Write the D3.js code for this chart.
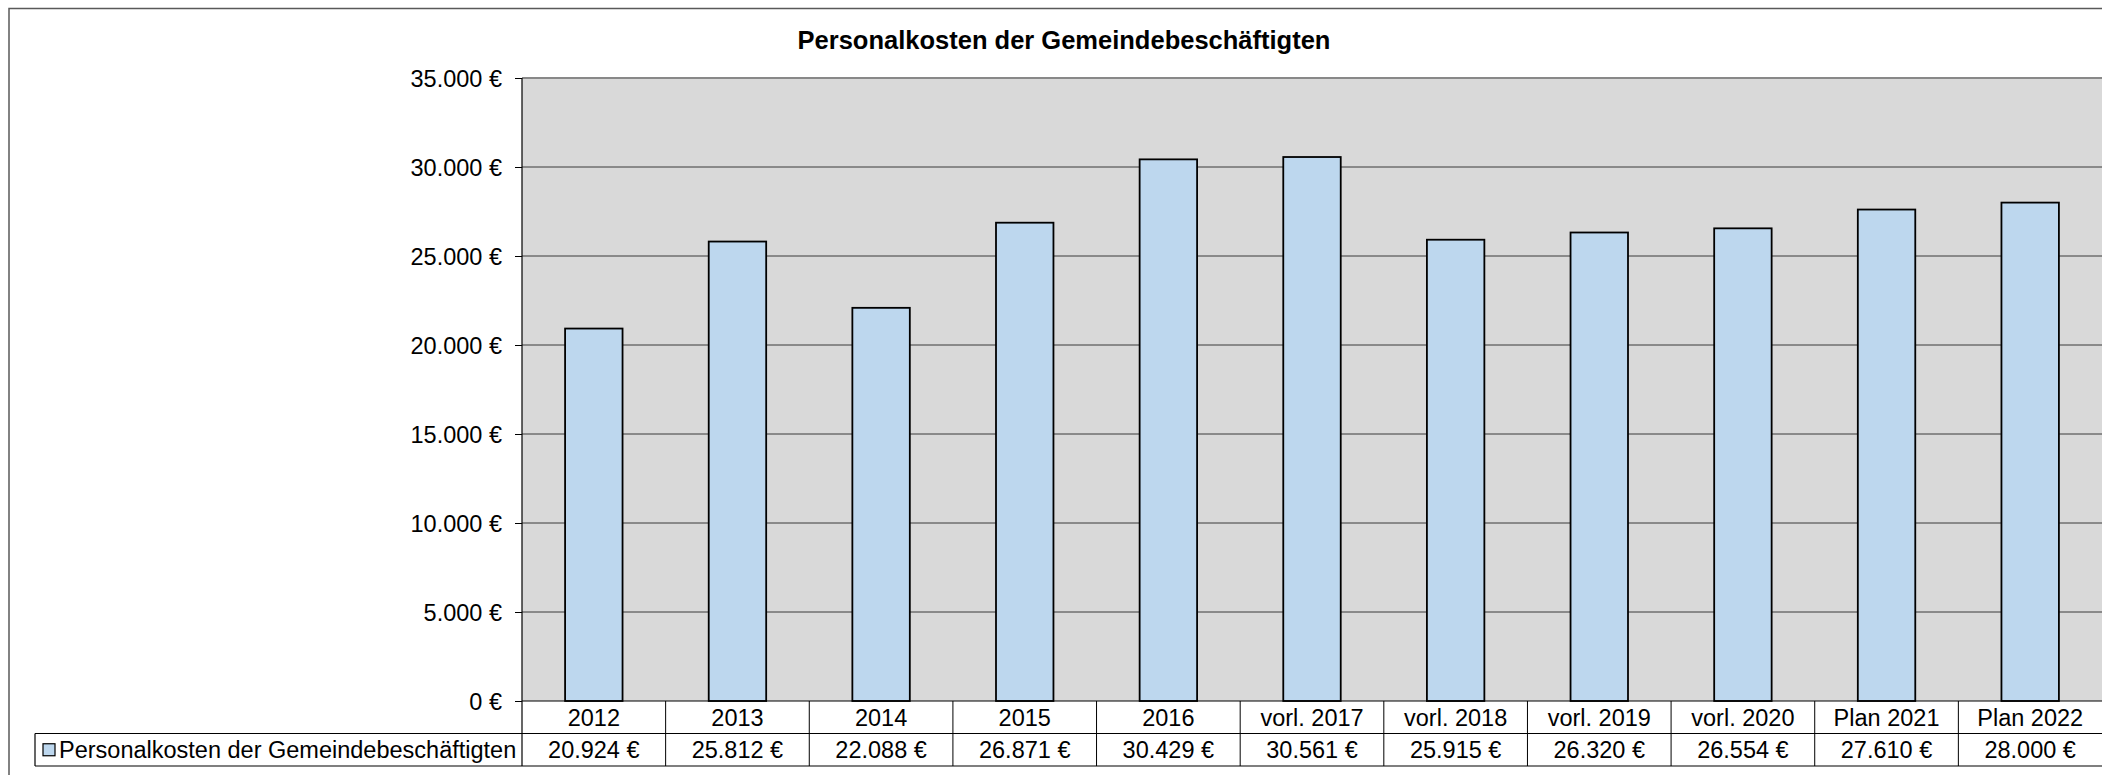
<!DOCTYPE html>
<html><head><meta http-equiv="Content-Type" content="text/html; charset=UTF-8">
<script src="https://d3js.org/d3.v7.min.js"></script>
</head>
<body style="margin:0;background:#fff">
<style>
  svg text { font-family: "Liberation Sans", Arial, sans-serif; fill: #000; }
</style>
<div id="body"></div>
<script type="text/javascript">

// chart data
var chartTitle = "Personalkosten der Gemeindebeschäftigten";
var seriesName = "Personalkosten der Gemeindebeschäftigten";
var categories = ["2012", "2013", "2014", "2015", "2016", "vorl. 2017", "vorl. 2018",
                  "vorl. 2019", "vorl. 2020", "Plan 2021", "Plan 2022"];
var values = [20924, 25812, 22088, 26871, 30429, 30561, 25915, 26320, 26554, 27610, 28000];
var yTicks = [0, 5000, 10000, 15000, 20000, 25000, 30000, 35000];

var w = 2102, h = 775,
    plotLeft = 522, plotRight = 2102,
    plotTop = 78, plotBottom = 701,
    rowH = 32.5,
    legendLeft = 35,
    fontSize = 23.5;

var de = d3.formatLocale({decimal: ",", thousands: ".", grouping: [3], currency: ["", " €"]});
var euro = function(v) { return de.format(",.0f")(v) + " €"; };

var x = d3.scaleBand().domain(categories).range([plotLeft, plotRight]).paddingInner(0).paddingOuter(0);
var y = d3.scaleLinear().domain([0, 35000]).range([plotBottom, plotTop]);
var barW = x.bandwidth() * 0.4;

var svg = d3.select("#body").append("svg")
    .attr("width", w)
    .attr("height", h);

// outer chart frame (right/bottom fall outside the picture)
svg.append("rect")
    .attr("x", 9).attr("y", 8.5)
    .attr("width", w + 20).attr("height", h + 20)
    .attr("fill", "#fff")
    .attr("stroke", "#595959")
    .attr("stroke-width", 1.5);

// plot background
svg.append("rect")
    .attr("x", plotLeft).attr("y", plotTop)
    .attr("width", plotRight - plotLeft).attr("height", plotBottom - plotTop)
    .attr("fill", "#d9d9d9");

svg.append("line")
    .attr("x1", plotLeft).attr("x2", plotRight)
    .attr("y1", plotTop).attr("y2", plotTop)
    .attr("stroke", "#888").attr("stroke-width", 2);

// gridlines
svg.selectAll(".grid")
    .data(yTicks.filter(function(d) { return d > 0 && d < 35000; }))
    .enter().append("line")
    .attr("class", "grid")
    .attr("x1", plotLeft).attr("x2", plotRight)
    .attr("y1", function(d) { return y(d); })
    .attr("y2", function(d) { return y(d); })
    .attr("stroke", "#3a3a3a").attr("stroke-width", 1);

// bars
svg.selectAll(".bar")
    .data(values)
    .enter().append("rect")
    .attr("class", "bar")
    .attr("x", function(d, i) { return x(categories[i]) + (x.bandwidth() - barW) / 2; })
    .attr("y", function(d) { return y(d); })
    .attr("width", barW)
    .attr("height", function(d) { return y(0) - y(d); })
    .attr("fill", "#bdd7ee")
    .attr("stroke", "#000")
    .attr("stroke-width", 1.8);

// y axis
var yAxis = d3.axisLeft(y)
    .tickValues(yTicks)
    .tickSizeInner(7)
    .tickSizeOuter(0)
    .tickPadding(13)
    .tickFormat(euro);

var ya = svg.append("g")
    .attr("transform", "translate(" + plotLeft + ",0)")
    .call(yAxis);
ya.select(".domain").remove();
ya.selectAll("line").attr("stroke", "#000");
ya.selectAll("text")
    .style("font-size", fontSize + "px")
    .attr("dy", "0.35em");

// axis line, continuing down through the data table
svg.append("line")
    .attr("x1", plotLeft).attr("x2", plotLeft)
    .attr("y1", plotTop).attr("y2", plotBottom + 2 * rowH)
    .attr("stroke", "#000").attr("stroke-width", 1.2);

// data table
var tbl = svg.append("g");
tbl.append("line")
    .attr("x1", plotLeft).attr("x2", plotRight)
    .attr("y1", plotBottom).attr("y2", plotBottom)
    .attr("stroke", "#000").attr("stroke-width", 1.2);
[plotBottom + rowH, plotBottom + 2 * rowH].forEach(function(yy) {
    tbl.append("line")
        .attr("x1", legendLeft).attr("x2", plotRight)
        .attr("y1", yy).attr("y2", yy)
        .attr("stroke", "#000").attr("stroke-width", 1.2);
});
tbl.append("line")
    .attr("x1", legendLeft).attr("x2", legendLeft)
    .attr("y1", plotBottom + rowH).attr("y2", plotBottom + 2 * rowH)
    .attr("stroke", "#000").attr("stroke-width", 1.2);

tbl.selectAll(".div")
    .data(categories.slice(1))
    .enter().append("line")
    .attr("x1", function(d) { return x(d); })
    .attr("x2", function(d) { return x(d); })
    .attr("y1", plotBottom).attr("y2", plotBottom + 2 * rowH)
    .attr("stroke", "#000").attr("stroke-width", 1);

tbl.selectAll(".cat")
    .data(categories)
    .enter().append("text")
    .attr("x", function(d) { return x(d) + x.bandwidth() / 2; })
    .attr("y", plotBottom + rowH / 2)
    .attr("dy", "0.36em")
    .style("text-anchor", "middle")
    .style("font-size", fontSize + "px")
    .text(function(d) { return d; });

tbl.selectAll(".val")
    .data(values)
    .enter().append("text")
    .attr("x", function(d, i) { return x(categories[i]) + x.bandwidth() / 2; })
    .attr("y", plotBottom + rowH * 1.5)
    .attr("dy", "0.36em")
    .style("text-anchor", "middle")
    .style("font-size", fontSize + "px")
    .text(function(d) { return euro(d); });

// legend key in table
tbl.append("rect")
    .attr("x", 43).attr("y", plotBottom + rowH * 1.5 - 6)
    .attr("width", 12).attr("height", 12)
    .attr("fill", "#bdd7ee")
    .attr("stroke", "#000").attr("stroke-width", 1.2);
tbl.append("text")
    .attr("x", 59)
    .attr("y", plotBottom + rowH * 1.5)
    .attr("dy", "0.36em")
    .style("font-size", fontSize + "px")
    .text(seriesName);

// title
svg.append("text")
    .attr("x", 1064)
    .attr("y", 49)
    .style("text-anchor", "middle")
    .style("font-size", "25.5px")
    .style("font-weight", "bold")
    .text(chartTitle);

</script>
</body></html>
